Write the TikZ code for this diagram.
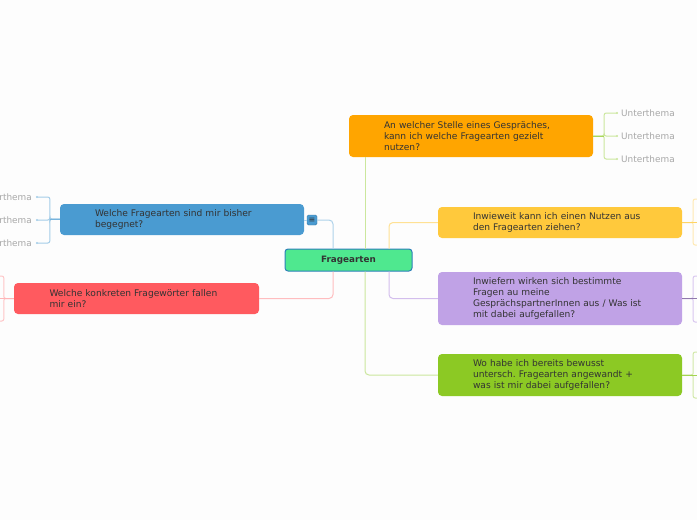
\documentclass[tikz,border=0pt]{standalone}
\usepackage{fontspec}
\setmainfont{DejaVu Sans}
\usepackage{tikz}
\usetikzlibrary{arrows.meta, calc}
\usepackage{xcolor}
\frenchspacing
\definecolor{txtc}{HTML}{333333}
\definecolor{subc}{HTML}{A8A8A8}
\definecolor{rootc}{HTML}{4FE88F}
\definecolor{rootb}{HTML}{2C80B9}
\definecolor{bluec}{HTML}{4A9BD1}
\definecolor{redc}{HTML}{FF5A5F}
\definecolor{orac}{HTML}{FFA500}
\definecolor{yelc}{HTML}{FFC93C}
\definecolor{purc}{HTML}{C0A2E6}
\definecolor{grnc}{HTML}{8CC924}
\tikzset{
  topic/.style ={rounded corners=4pt, inner xsep=35pt, inner ysep=0pt, text width=174pt, minimum width=244pt,
                 align=left, text=txtc, font=\fontsize{9.1}{11}\selectfont},
  rootv/.style ={draw=rootb, fill=rootc, line width=1pt, rounded corners=3pt, minimum width=127pt, minimum height=22pt,
                 inner sep=0pt, text=txtc, font=\fontsize{8.8}{10}\selectfont\bfseries},
  untr/.style  ={inner sep=0pt, text=subc, font=\fontsize{8.9}{10}\selectfont},
  lnk/.style   ={line width=1pt, rounded corners=4pt},                 % root -> topic
  sublnk/.style={line width=1pt, rounded corners=2pt},                 % topic -> Unterthema
  tick/.style  ={-{Circle[length=2pt]}},
}

\begin{document}
\begin{tikzpicture}[x=1pt, y=-1pt]
  \useasboundingbox[fill={rgb,255:red,253;green,253;blue,253}] (0,0) rectangle (697,520);

  % root
  \node[rootv] (root) at (348.5,260) {Fragearten};

  % LEFT: blue + red
  \node[topic, fill=bluec, minimum height=31pt] (blue) at (182,219.5)
    {Welche Fragearten sind mir bisher\\ begegnet?};
  \node[draw=bluec!80!black, fill=bluec, rounded corners=1.5pt, minimum size=10pt, inner sep=0pt,
        text=txtc, font=\fontsize{8}{8}\selectfont] (fold) at (312,220) {≡};
  \node[topic, fill=redc, minimum height=31pt, minimum width=245pt] (red) at (136.5,298.5)
    {Welche konkreten Fragewörter fallen\\ mir ein?};

  % RIGHT: orange, yellow, purple, green
  \node[topic, fill=orac, minimum height=42pt] (orange) at (471,136)
    {An welcher Stelle eines Gespräches,\\ kann ich welche Fragearten gezielt\\ nutzen?};
  \node[topic, fill=yelc, minimum height=31pt] (yellow) at (560,222.5)
    {Inwieweit kann ich einen Nutzen aus\\ den Fragearten ziehen?};
  \node[topic, fill=purc, minimum height=53pt] (purple) at (560,298.5)
    {Inwiefern wirken sich bestimmte\\ Fragen au meine\\ GesprächspartnerInnen aus / Was ist\\ mit dabei aufgefallen?};
  \node[topic, fill=grnc, minimum height=42pt] (green) at (560,375)
    {Wo habe ich bereits bewusst\\ untersch. Fragearten angewandt +\\ was ist mir dabei aufgefallen?};

  % root -> topics
  \draw[lnk, bluec!45] ([xshift=-15.5pt]root.north) |- (fold.east);
  \draw[lnk, bluec!45] (fold.west) -- (fold.west -| blue.east);
  \draw[lnk, redc!40] ([xshift=-15.5pt]root.south) |- (red.east);
  \draw[lnk, grnc!45] ([xshift=16.5pt]root.north) -- ([xshift=16.5pt]root.north |- orange.south);
  \draw[lnk, grnc!45] ([xshift=16.5pt]root.south) |- (green.west);
  \draw[lnk, yelc!55] ([xshift=40.5pt]root.north) |- (yellow.west);
  \draw[lnk, purc!70] ([xshift=40.5pt]root.south) |- (purple.west);

  % Unterthema
  \node[untr, anchor=east] (b1) at (32,197) {Unterthema};
  \node[untr, anchor=east] (b2) at (32,220) {Unterthema};
  \node[untr, anchor=east] (b3) at (32,243) {Unterthema};
  \node[untr, anchor=west] (o1) at (621,113) {Unterthema};
  \node[untr, anchor=west] (o2) at (621,136) {Unterthema};
  \node[untr, anchor=west] (o3) at (621,159) {Unterthema};
  \foreach \u in {b1,b2,b3}
    \draw[sublnk, tick, bluec!50] ([yshift=0.5pt]blue.west) -- ++(-10,0) |- ([xshift=4pt]\u.east);
  \foreach \u in {o1,o2,o3}
    \draw[sublnk, tick, grnc!45] (orange.east) -- ++(11,0) |- ([xshift=-3pt]\u.west);
  \draw[line width=1pt, bluec!75] ([yshift=0.5pt]blue.west) -- ++(-10,0);
  \draw[line width=1pt, grnc!75] (orange.east) -- ++(11,0);

  % cut off at the edges
  \coordinate (r1) at (-12,276);
  \coordinate (r3) at (-12,321);
  \coordinate (y1) at (710,199);
  \coordinate (y3) at (710,245);
  \coordinate (p1) at (710,276);
  \coordinate (p3) at (710,322);
  \coordinate (g1) at (710,352);
  \coordinate (g3) at (710,398);
  \foreach \u in {r1,r3}
    \draw[sublnk, redc!35] (red.west) -- ++(-10,0) |- (\u);
  \draw[line width=1pt, redc!45] (red.west) -- ++(-20,0);
  \foreach \u in {y1,y3}
    \draw[sublnk, yelc!40] (yellow.east) -- ++(11,0) |- (\u);
  \draw[line width=1pt, yelc!80] (yellow.east) -- ++(20,0);
  \foreach \u in {p1,p3}
    \draw[sublnk, purc!60] (purple.east) -- ++(11,0) |- (\u);
  \draw[line width=1pt, purc!75!black] (purple.east) -- ++(20,0);
  \foreach \u in {g1,g3}
    \draw[sublnk, grnc!40] (green.east) -- ++(11,0) |- (\u);
  \draw[line width=1pt, grnc!80] (green.east) -- ++(20,0);
\end{tikzpicture}
\end{document}
